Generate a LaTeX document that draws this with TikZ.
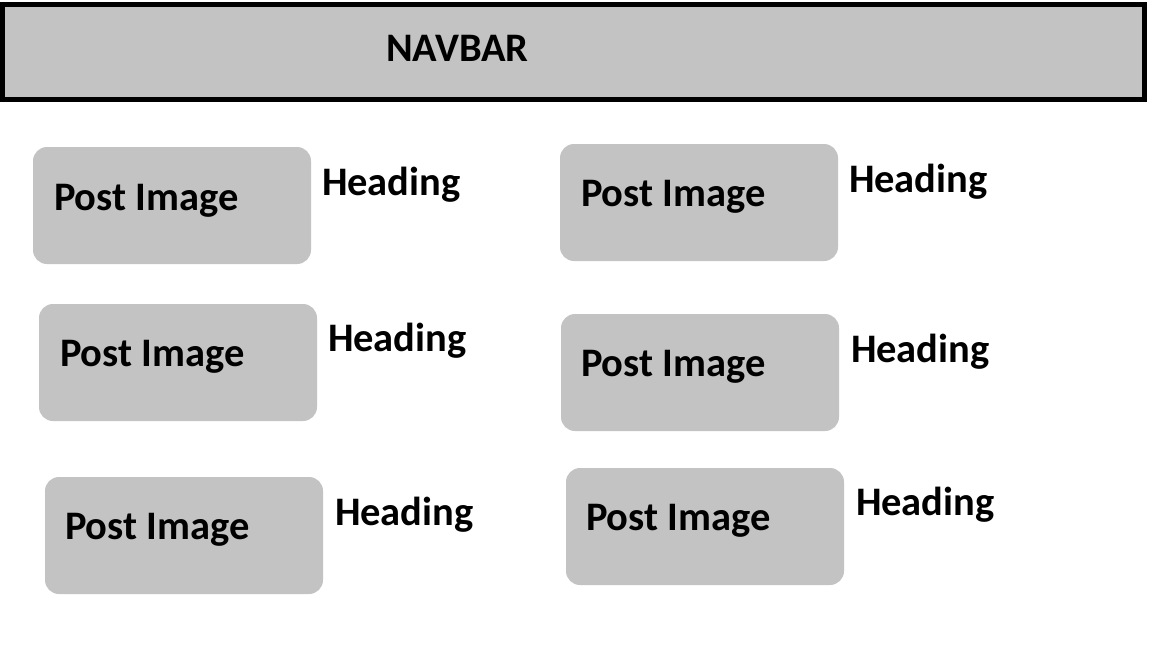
\documentclass[tikz,border=0pt]{standalone}
\usepackage{fontspec}
\setmainfont{Carlito}
\definecolor{boxgray}{HTML}{C3C3C3}
\tikzset{
  navbox/.style={draw=black, line width=5pt, fill=boxgray, inner sep=0pt, outer sep=0pt,
    anchor=north west, minimum width=1142pt, minimum height=95pt},
  postbox/.style={fill=boxgray, rounded corners=14pt, inner sep=0pt, outer sep=0pt,
    anchor=north west, minimum width=278pt, minimum height=117pt},
  lbl/.style={inner sep=0pt, outer sep=0pt, anchor=base west,
    font=\fontsize{40.5}{40.5}\selectfont\bfseries, text=black}
}
\begin{document}
\begin{tikzpicture}[x=1pt,y=-1pt]
\useasboundingbox (0,0) rectangle (1152,648);
\node[navbox] (nav) at (2.5,4.5) {};
\node[lbl] (navtxt) at (386,61) {NAVBAR};
% left column
\node[postbox] (b1) at (33,147) {};
\node[lbl] (p1) at (54,210) {Post Image};
\node[lbl] (h1) at (322,195) {Heading};
\node[postbox] (b3) at (39,304) {};
\node[lbl] (p3) at (60,366) {Post Image};
\node[lbl] (h3) at (328,351) {Heading};
\node[postbox] (b5) at (45,477) {};
\node[lbl] (p5) at (65,539) {Post Image};
\node[lbl] (h5) at (335,525) {Heading};
% right column
\node[postbox] (b2) at (560,144) {};
\node[lbl] (p2) at (581,206) {Post Image};
\node[lbl] (h2) at (849,192) {Heading};
\node[postbox] (b4) at (561,314) {};
\node[lbl] (p4) at (581,376) {Post Image};
\node[lbl] (h4) at (851,362) {Heading};
\node[postbox] (b6) at (566,468) {};
\node[lbl] (p6) at (586,530) {Post Image};
\node[lbl] (h6) at (856,515) {Heading};
\end{tikzpicture}
\end{document}
